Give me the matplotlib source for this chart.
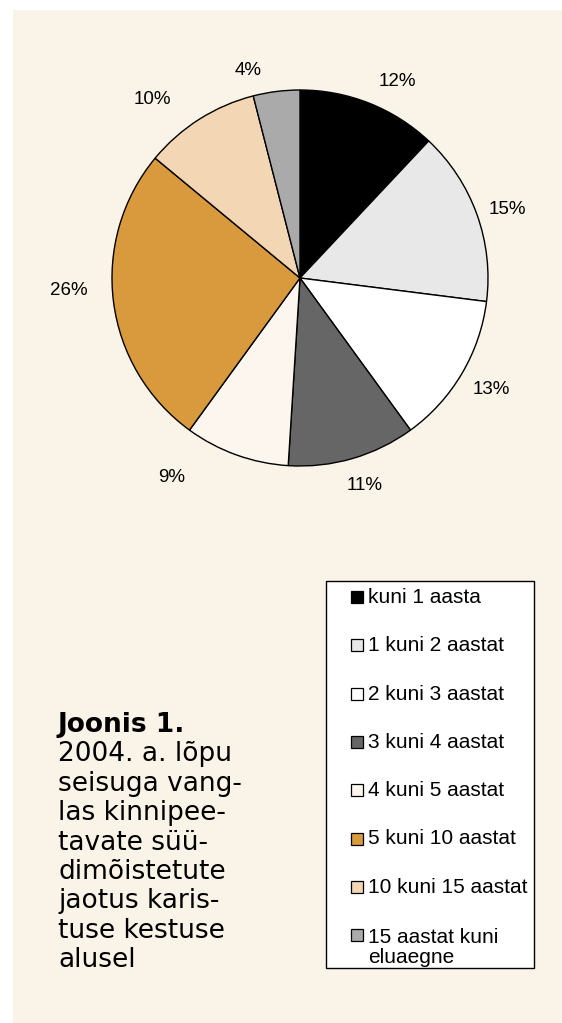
import numpy as np
import matplotlib.pyplot as plt
from matplotlib.patches import Rectangle

# data
labels = ["kuni 1 aasta", "1 kuni 2 aastat", "2 kuni 3 aastat", "3 kuni 4 aastat",
          "4 kuni 5 aastat", "5 kuni 10 aastat", "10 kuni 15 aastat",
          "15 aastat kuni\neluaegne"]
shares = [12, 15, 13, 11, 9, 26, 10, 4]
colors = ["#000000", "#e8e8e8", "#ffffff", "#666666",
          "#fdf6ee", "#d99a3e", "#f3d6b3", "#aaaaaa"]
caption = ["2004. a. lõpu", "seisuga vang-", "las kinnipee-", "tavate süü-",
           "dimõistetute", "jaotus karis-", "tuse kestuse", "alusel"]

# label placement tweaks (degrees, radius) - hand placed in the original
lab_turn = [-4.7, -1.6, 0.3, 1.2, -12.9, -4.2, 7.2, 6.8]
lab_dist = [1.165, 1.16, 1.18, 1.155, 1.26, 1.23, 1.23, 1.14]

W, H = 562, 1023
cream = "#faf3e8"

fig = plt.figure(figsize=(W / 100, H / 100), dpi=100, facecolor="white")

def fx(x):
    return x / W

def fy(y):
    return 1 - y / H

# cream panel
fig.patches.append(Rectangle((fx(13), 0), 1 - fx(13), fy(10), transform=fig.transFigure,
                             facecolor=cream, edgecolor="none", zorder=-5))

# pie
cx, cy, r = 300, 278, 188
ax = fig.add_axes([fx(cx - r), fy(cy + r), 2 * r / W, 2 * r / H])
ax.set_zorder(2)
ax.patch.set_alpha(0)
wedges, texts, autotexts = ax.pie(shares, colors=colors, startangle=90, counterclock=False,
                                  autopct="%d%%", pctdistance=1.17,
                                  wedgeprops=dict(edgecolor="black", linewidth=1.0),
                                  textprops=dict(fontsize=13.5, family="Liberation Sans"))
for w, t, turn, d in zip(wedges, autotexts, lab_turn, lab_dist):
    w.set_clip_on(False)
    a = np.deg2rad((w.theta1 + w.theta2) / 2 + turn)
    t.set_position((d * np.cos(a), d * np.sin(a)))
ax.set_xlim(-1, 1)
ax.set_ylim(-1, 1)
ax.axis("off")

# legend box drawn by hand
fig.patches.append(Rectangle((fx(326), fy(968)), fx(534) - fx(326), fy(581) - fy(968),
                             transform=fig.transFigure, facecolor="white",
                             edgecolor="black", linewidth=1.0, zorder=1))
base0, step, lh = 603, 48.3, 22
for i, (lab, col) in enumerate(zip(labels, colors)):
    yb = base0 + i * step
    fig.patches.append(Rectangle((fx(351), fy(yb)), 12 / W, 12 / H, transform=fig.transFigure,
                                 facecolor=col, edgecolor="black", linewidth=0.9, zorder=2))
    # baseline of a multi-line text is its last line
    fig.text(fx(368), fy(yb + lh * lab.count("\n")), lab, fontsize=15,
             family="Liberation Sans", va="baseline", ha="left",
             linespacing=1.05, zorder=3)

# caption
fig.text(fx(58), fy(732), "Joonis 1.", fontsize=19, fontweight="bold",
         family="DejaVu Sans", va="baseline", ha="left")
for i, line in enumerate(caption):
    fig.text(fx(58), fy(732 + (i + 1) * 29.4), line, fontsize=19,
             family="DejaVu Sans", va="baseline", ha="left")

fig.savefig("out.png", dpi=100, facecolor="white")
